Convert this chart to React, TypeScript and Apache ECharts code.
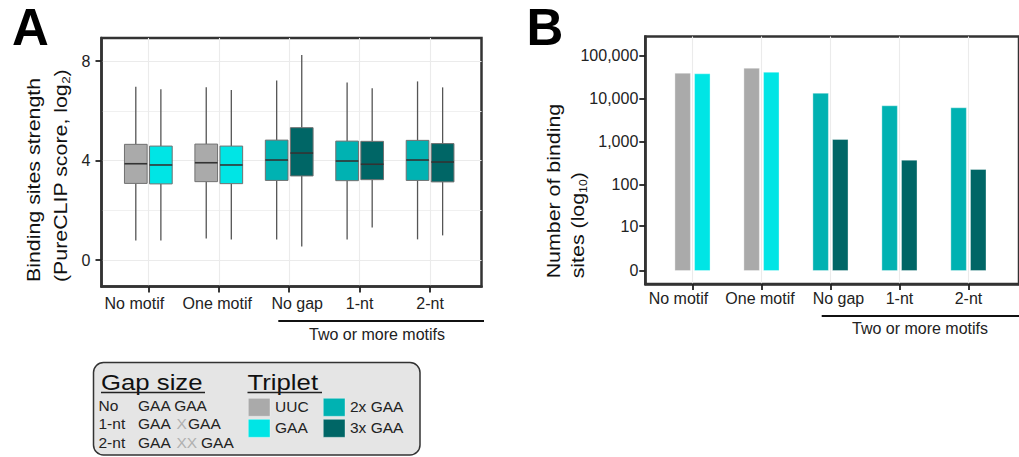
import React, { useEffect, useRef } from 'react';
import * as echarts from 'echarts';

// ---------- data ----------
const categories = ['No motif', 'One motif', 'No gap', '1-nt', '2-nt'];
const groupLabel = 'Two or more motifs';
const tripletNames = ['UUC', 'GAA', '2x GAA', '3x GAA'];
const tripletColors = ['#AAAAAA', '#00E5E5', '#00B2B2', '#006666'];
const leftTriplet = [0, 0, 2, 2, 2];
const rightTriplet = [1, 1, 3, 3, 3];

// Panel A: binding site strength (PureCLIP score, log2) -> [min, Q1, median, Q3, max]
const leftBoxStats = [
  [0.78, 3.08, 3.87, 4.65, 6.97],
  [0.86, 3.15, 3.91, 4.66, 6.95],
  [0.82, 3.2, 4.02, 4.82, 7.22],
  [0.82, 3.19, 3.98, 4.78, 7.14],
  [0.83, 3.2, 4.02, 4.81, 7.18],
];
const rightBoxStats = [
  [0.78, 3.06, 3.82, 4.58, 6.86],
  [0.82, 3.07, 3.82, 4.58, 6.83],
  [0.54, 3.38, 4.3, 5.32, 8.24],
  [1.31, 3.23, 3.85, 4.77, 6.9],
  [0.99, 3.14, 3.94, 4.68, 6.94],
];
const scoreTicks = [0, 4, 8];
const scoreMinorTicks = [2, 6];

// Panel B: number of binding sites
const leftCounts = [40300, 52600, 13800, 7050, 6340];
const rightCounts = [39000, 42500, 1160, 384, 233];
const countTicks = [0, 10, 100, 1000, 10000, 100000];

// Legend (gap size)
const gapRows = [
  { label: 'No', parts: ['GAA GAA'] },
  { label: '1-nt', parts: ['GAA', 'X', 'GAA'] },
  { label: '2-nt', parts: ['GAA', 'XX', 'GAA'] },
];

// ---------- styles ----------
const FONT = '"Liberation Sans", Arial, Helvetica, sans-serif';
const TEXT = '#222';
const FRAME = '#333';
const GRIDLINE = '#EBEBEB';
const DODGE = 0.178;
const BOX_W = 0.322;
const TICK_LEN = 6;
const labelPad = [28, 3, 16, 0, 0];

const lg = (v: number) => Math.log10(v + 1);
const catPos = categories.map((_, i) => i + 1);

function renderBox(params: any, api: any) {
  const x = api.value(0);
  const pMin = api.coord([x, api.value(1)]);
  const pQ1 = api.coord([x, api.value(2)]);
  const pMed = api.coord([x, api.value(3)]);
  const pQ3 = api.coord([x, api.value(4)]);
  const pMax = api.coord([x, api.value(5)]);
  const w = api.size([BOX_W, 0])[0];
  const color = tripletColors[api.value(6)];
  return {
    type: 'group',
    children: [
      { type: 'line', shape: { x1: pMin[0], y1: pMin[1], x2: pQ1[0], y2: pQ1[1] }, style: { stroke: '#555', lineWidth: 1.3 } },
      { type: 'line', shape: { x1: pQ3[0], y1: pQ3[1], x2: pMax[0], y2: pMax[1] }, style: { stroke: '#555', lineWidth: 1.3 } },
      {
        type: 'rect',
        shape: { x: pQ3[0] - w / 2, y: pQ3[1], width: w, height: pQ1[1] - pQ3[1] },
        style: { fill: color, stroke: '#707070', lineWidth: 1 },
      },
      { type: 'line', shape: { x1: pMed[0] - w / 2, y1: pMed[1], x2: pMed[0] + w / 2, y2: pMed[1] }, style: { stroke: '#333', lineWidth: 1.6 } },
    ],
  };
}

const labelRich: any = {};
categories.forEach((_, i) => {
  labelRich['c' + i] = {
    fontFamily: FONT,
    fontSize: 16,
    color: TEXT,
    padding: i < 2 ? [0, labelPad[i], 0, 0] : [0, 0, 0, labelPad[i]],
  };
});
const catFormatter = (v: number) => {
  const i = Math.round(v) - 1;
  return categories[i] !== undefined ? `{c${i}|${categories[i]}}` : '';
};

const tickStyle = { show: true, inside: false, length: TICK_LEN, lineStyle: { color: '#222', width: 1.8 } };
const axisLineStyle = { show: true, onZero: false, lineStyle: { color: FRAME, width: 2.5 } };

function txt(x: number, y: number, text: string, extra: any = {}, el: any = {}) {
  return {
    type: 'text',
    x,
    y,
    silent: true,
    ...el,
    style: { text, fontFamily: FONT, fontSize: 15.5, fill: TEXT, align: 'left', verticalAlign: 'middle', ...extra },
  };
}

function buildOption() {
  const boxData = [
    ...leftBoxStats.map((s, i) => [catPos[i] - DODGE, ...s, leftTriplet[i]]),
    ...rightBoxStats.map((s, i) => [catPos[i] + DODGE, ...s, rightTriplet[i]]),
  ];

  const graphics: any[] = [
    txt(12, 27.3, 'A', { fontSize: 51, fontWeight: 'bold', fill: '#000' }),
    txt(526.5, 27.3, 'B', { fontSize: 51, fontWeight: 'bold', fill: '#000' }),
    // y titles
    txt(33.3, 282, 'Binding sites strength', { fontSize: 17.5, fill: '#111' }, { rotation: Math.PI / 2, scaleX: 1.22 }),
    txt(60.7, 282, '(PureCLIP score, log{s|2})', {
      fontSize: 17.5, fill: '#111', lineHeight: 22,
      rich: { s: { fontSize: 11, fontFamily: FONT, fill: '#111', verticalAlign: 'bottom', lineHeight: 11 } },
    }, { rotation: Math.PI / 2, scaleX: 1.22 }),
    txt(554, 278.3, 'Number of binding', { fontSize: 17.5, fill: '#111' }, { rotation: Math.PI / 2, scaleX: 1.22 }),
    txt(577.3, 278.3, 'sites (log{s|10})', {
      fontSize: 17.5, fill: '#111', lineHeight: 22,
      rich: { s: { fontSize: 10, fontFamily: FONT, fill: '#111', verticalAlign: 'bottom', lineHeight: 10 } },
    }, { rotation: Math.PI / 2, scaleX: 1.22 }),
    // group brackets
    { type: 'line', silent: true, shape: { x1: 278.3, y1: 321, x2: 484, y2: 321 }, style: { stroke: '#111', lineWidth: 2 } },
    txt(377, 334.5, groupLabel, { fontSize: 16, align: 'center' }),
    { type: 'line', silent: true, shape: { x1: 821.7, y1: 316, x2: 1019, y2: 316 }, style: { stroke: '#111', lineWidth: 2 } },
    txt(920, 328.8, groupLabel, { fontSize: 16, align: 'center' }),
    // legend box
    {
      type: 'rect', silent: true,
      shape: { x: 93.5, y: 362.5, width: 326.5, height: 92.5, r: 10 },
      style: { fill: '#E5E5E5', stroke: '#333', lineWidth: 1.5 },
    },
    txt(101, 381.7, 'Gap size', { fontSize: 22, fill: '#111' }, { scaleX: 1.17 }),
    { type: 'line', silent: true, shape: { x1: 101, y1: 392.5, x2: 205, y2: 392.5 }, style: { stroke: '#222', lineWidth: 1.3 } },
    txt(247.5, 381.7, 'Triplet', { fontSize: 22, fill: '#111' }, { scaleX: 1.17 }),
    { type: 'line', silent: true, shape: { x1: 247.5, y1: 392.5, x2: 322, y2: 392.5 }, style: { stroke: '#222', lineWidth: 1.3 } },
  ];

  const rowY = [405, 423.3, 442.3];
  const partX = [[138], [138, 176.5, 188], [138, 176.5, 201]];
  gapRows.forEach((row, r) => {
    graphics.push(txt(98.5, rowY[r], row.label));
    row.parts.forEach((p, k) => {
      graphics.push(txt(partX[r][k], rowY[r], p, { fill: p.startsWith('X') ? '#B0B0B0' : TEXT }));
    });
  });

  const swX = [248.3, 248.3, 323.3, 323.3];
  const swY = [398.3, 419.3, 398.3, 419.3];
  const swLabelY = [406.7, 427, 406.7, 427];
  tripletNames.forEach((name, i) => {
    graphics.push({
      type: 'rect', silent: true,
      shape: { x: swX[i], y: swY[i], width: 21.7, height: 18 },
      style: { fill: tripletColors[i], stroke: 'rgba(255,255,255,0.35)', lineWidth: 1 },
    });
    graphics.push(txt(swX[i] + 26.7, swLabelY[i], name));
  });

  const xAxisCommon = (gridIndex: number, min: number, max: number, margin: number) => ({
    type: 'value', gridIndex, min, max, position: 'bottom',
    axisLine: axisLineStyle,
    axisTick: { ...tickStyle, customValues: catPos },
    axisLabel: { customValues: catPos, formatter: catFormatter, rich: labelRich, margin, fontSize: 16, color: TEXT, fontFamily: FONT },
    splitLine: { show: true, lineStyle: { color: GRIDLINE, width: 1.1 } },
  });

  return {
    animation: false,
    backgroundColor: '#fff',
    textStyle: { fontFamily: FONT },
    grid: [
      { left: 101.5, top: 38, width: 380, height: 248.5, show: true, borderColor: FRAME, borderWidth: 2.5, backgroundColor: 'transparent' },
      { left: 645.3, top: 36.5, width: 375.4, height: 247.5, show: true, borderColor: FRAME, borderWidth: 2.5, backgroundColor: 'transparent' },
    ],
    xAxis: [xAxisCommon(0, 0.335, 5.73, 8.5), xAxisCommon(1, 0.316, 5.733, 6)],
    yAxis: [
      {
        type: 'value', gridIndex: 0, min: -1.065, max: 8.925, position: 'left',
        axisLine: axisLineStyle,
        axisTick: { ...tickStyle, customValues: scoreTicks },
        axisLabel: { customValues: scoreTicks, margin: 11, fontSize: 16, color: TEXT, fontFamily: FONT },
        splitLine: { show: true, lineStyle: { color: GRIDLINE, width: 1.1 } },
      },
      {
        type: 'value', gridIndex: 0, min: -1.065, max: 8.925, position: 'right',
        axisLine: { show: false, onZero: false },
        axisTick: { show: false, customValues: scoreMinorTicks },
        axisLabel: { show: false },
        splitLine: { show: true, lineStyle: { color: '#F0F0F0', width: 1.1 } },
      },
      {
        type: 'value', gridIndex: 1, min: -0.302, max: 5.446, position: 'left',
        axisLine: axisLineStyle,
        axisTick: { ...tickStyle, customValues: countTicks.map(lg) },
        axisLabel: {
          customValues: countTicks.map(lg), margin: 7, fontSize: 16, color: TEXT, fontFamily: FONT,
          formatter: (v: number) => {
            const i = countTicks.findIndex((t) => Math.abs(lg(t) - v) < 1e-6);
            return i >= 0 ? countTicks[i].toLocaleString('en-US') : '';
          },
        },
        splitLine: { show: false },
      },
    ],
    series: [
      {
        type: 'custom', xAxisIndex: 0, yAxisIndex: 0, renderItem: renderBox, data: boxData,
        encode: { x: 0, y: [1, 2, 3, 4, 5] }, z: 5,
      },
      {
        type: 'bar', xAxisIndex: 1, yAxisIndex: 2, barWidth: 16.5, barGap: '19%',
        data: leftCounts.map((c, i) => ({
          value: [catPos[i], lg(c)],
          itemStyle: { color: tripletColors[leftTriplet[i]], borderColor: 'rgba(255,255,255,0.35)', borderWidth: 1 },
        })),
      },
      {
        type: 'bar', xAxisIndex: 1, yAxisIndex: 2, barWidth: 16.5, barGap: '19%',
        data: rightCounts.map((c, i) => ({
          value: [catPos[i], lg(c)],
          itemStyle: { color: tripletColors[rightTriplet[i]], borderColor: 'rgba(255,255,255,0.35)', borderWidth: 1 },
        })),
      },
    ],
    graphic: graphics,
  };
}

export default function App() {
  const ref = useRef<HTMLDivElement>(null);
  useEffect(() => {
    if (!ref.current) return;
    const chart = echarts.init(ref.current, undefined, { renderer: 'svg' });
    chart.setOption(buildOption() as any);
    return () => chart.dispose();
  }, []);
  return <div ref={ref} style={{ position: 'absolute', left: 0, top: 0, width: 1019, height: 457 }} />;
}
